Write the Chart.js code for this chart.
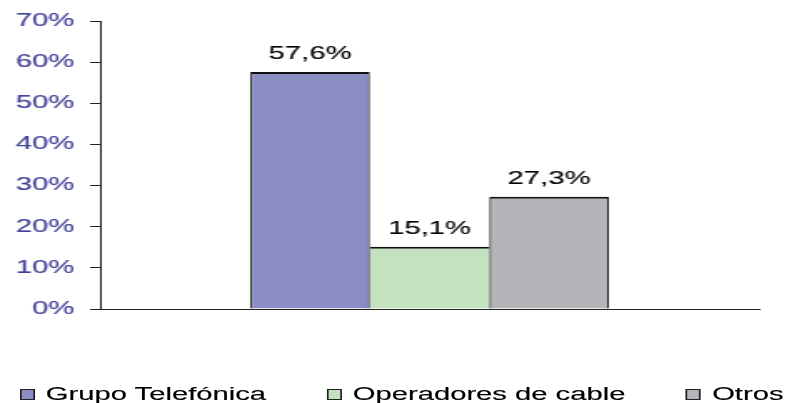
<!DOCTYPE html>
<html>
<head>
<meta charset="utf-8">
<script src="https://cdn.jsdelivr.net/npm/chart.js@4"></script>
<style>
  html, body { margin: 0; padding: 0; background: #fff; overflow: hidden; }
  /* the original picture is horizontally stretched, so draw narrow and stretch */
  #stage { position: absolute; left: 0; top: 0; width: 476px; height: 403px; transform: scaleX(1.668); transform-origin: 0 0; }
  #chart { position: absolute; left: 0; top: 0; }
  #legend { position: absolute; left: 12px; top: 385px; display: flex; gap: 36.5px; font-family: "Liberation Sans", Arial, sans-serif; font-size: 17.5px; line-height: 18px; color: #000; -webkit-text-stroke: 0.15px #000; }
  .legend-item { flex: none; display: flex; align-items: center; white-space: nowrap; }
  .legend-box { flex: none; box-sizing: border-box; width: 9px; height: 11px; border: 1px solid #222; margin-right: 6.5px; }
</style>
</head>
<body>
<div id="stage">
  <canvas id="chart" width="476" height="403"></canvas>
  <div id="legend"></div>
</div>
<script>
const categories = [''];
const seriesNames = ['Grupo Telefónica', 'Operadores de cable', 'Otros'];
const seriesValues = [57.6, 15.1, 27.3];

const COLORS = ['#8a8cc4', '#c4e2c0', '#b4b5b9'];
// shared edges drawn once, by the taller neighbour
const BORDERS = [
  { top: 2, left: 1.2, right: 1.2, bottom: 0 },
  { top: 2, left: 0, right: 0, bottom: 0 },
  { top: 2, left: 1.2, right: 1.2, bottom: 0 }
];
const FONT = '"Liberation Sans", Arial, sans-serif';

const fmt = v => v.toFixed(1).replace('.', ',') + '%';

const valueLabels = {
  id: 'valueLabels',
  afterDatasetsDraw(chart) {
    const ctx = chart.ctx;
    ctx.save();
    ctx.font = '17.5px ' + FONT;
    ctx.fillStyle = '#000';
    ctx.strokeStyle = '#000';
    ctx.lineWidth = 0.15;
    ctx.textAlign = 'center';
    ctx.textBaseline = 'alphabetic';
    chart.data.datasets.forEach((ds, i) => {
      chart.getDatasetMeta(i).data.forEach((bar, j) => {
        const t = fmt(ds.data[j]);
        ctx.fillText(t, bar.x, bar.y - 12.7);
        ctx.strokeText(t, bar.x, bar.y - 12.7);
      });
    });
    ctx.restore();
  }
};

const chart = new Chart(document.getElementById('chart'), {
  type: 'bar',
  data: {
    labels: categories,
    datasets: seriesNames.map((name, i) => ({
      label: name,
      data: [seriesValues[i]],
      backgroundColor: COLORS[i],
      borderColor: '#111',
      borderWidth: BORDERS[i],
      categoryPercentage: 0.544,
      barPercentage: 1
    }))
  },
  options: {
    responsive: false,
    animation: false,
    layout: { padding: { left: 0, top: 21, right: 21, bottom: 94 } },
    scales: {
      x: {
        grid: { display: false, drawTicks: false },
        ticks: { display: false },
        border: { display: true, color: '#222', width: 1 }
      },
      y: {
        min: 0,
        max: 70,
        ticks: {
          stepSize: 10,
          callback: v => v + '%',
          color: '#3f3f96',
          textStrokeColor: '#3f3f96',
          textStrokeWidth: 0.15,
          font: { family: FONT, size: 17.5 },
          padding: 9.5
        },
        grid: { drawOnChartArea: false, drawTicks: true, tickLength: 6, color: '#222' },
        border: { color: '#222', width: 1 }
      }
    },
    plugins: {
      legend: { display: false },
      tooltip: { enabled: false }
    }
  },
  plugins: [valueLabels]
});

// legend built from the datasets, evenly gapped like the original
const legend = document.getElementById('legend');
chart.data.datasets.forEach(ds => {
  const item = document.createElement('div');
  item.className = 'legend-item';
  const box = document.createElement('span');
  box.className = 'legend-box';
  box.style.background = ds.backgroundColor;
  const txt = document.createElement('span');
  txt.textContent = ds.label;
  item.appendChild(box);
  item.appendChild(txt);
  legend.appendChild(item);
});
</script>
</body>
</html>
